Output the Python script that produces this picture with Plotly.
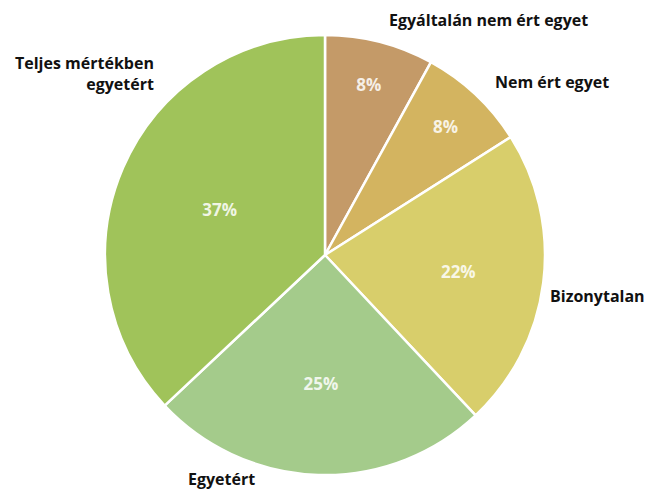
import plotly.graph_objects as go

labels = ["Egyáltalán nem ért egyet", "Nem ért egyet", "Bizonytalan", "Egyetért", "Teljes mértékben egyetért"]
values = [8, 8, 22, 25, 37]
colors = ["#C49A68", "#D3B460", "#D8CE6B", "#A4CB8B", "#A0C35A"]

W, H = 650, 489

fig = go.Figure(go.Pie(
    labels=labels,
    values=values,
    sort=False,
    direction="clockwise",
    rotation=0,
    marker=dict(colors=colors, line=dict(color="white", width=2.5)),
    texttemplate="%{value}%",
    textposition="inside",
    insidetextorientation="horizontal",
    textfont=dict(family="Open Sans", size=17, color="rgba(255,255,255,0.85)", weight="bold"),
    hoverinfo="label+value",
    showlegend=False,
    domain=dict(x=[105 / W, 545 / W], y=[1 - 475 / H, 1 - 35 / H]),
))

# outside category labels: (x, y, xanchor, label index, display text)
label_pos = [
    (488, 20, "center", 0, labels[0]),
    (552, 82, "center", 1, labels[1]),
    (548, 296, "left", 2, labels[2]),
    (186, 479, "left", 3, labels[3]),
    (156, 74, "right", 4, "Teljes mértékben<br>egyetért"),
]
for x, y, xa, i, txt in label_pos:
    fig.add_annotation(
        x=x / W, y=1 - y / H, xref="paper", yref="paper",
        text=txt, showarrow=False, xanchor=xa, yanchor="middle",
        align="right" if xa == "right" else "left",
        font=dict(family="Open Sans", size=16, color="#111111", weight="bold"),
    )

fig.update_layout(
    width=W, height=H,
    margin=dict(l=0, r=0, t=0, b=0),
    paper_bgcolor="white",
    plot_bgcolor="white",
)

fig.write_html("out.html")
